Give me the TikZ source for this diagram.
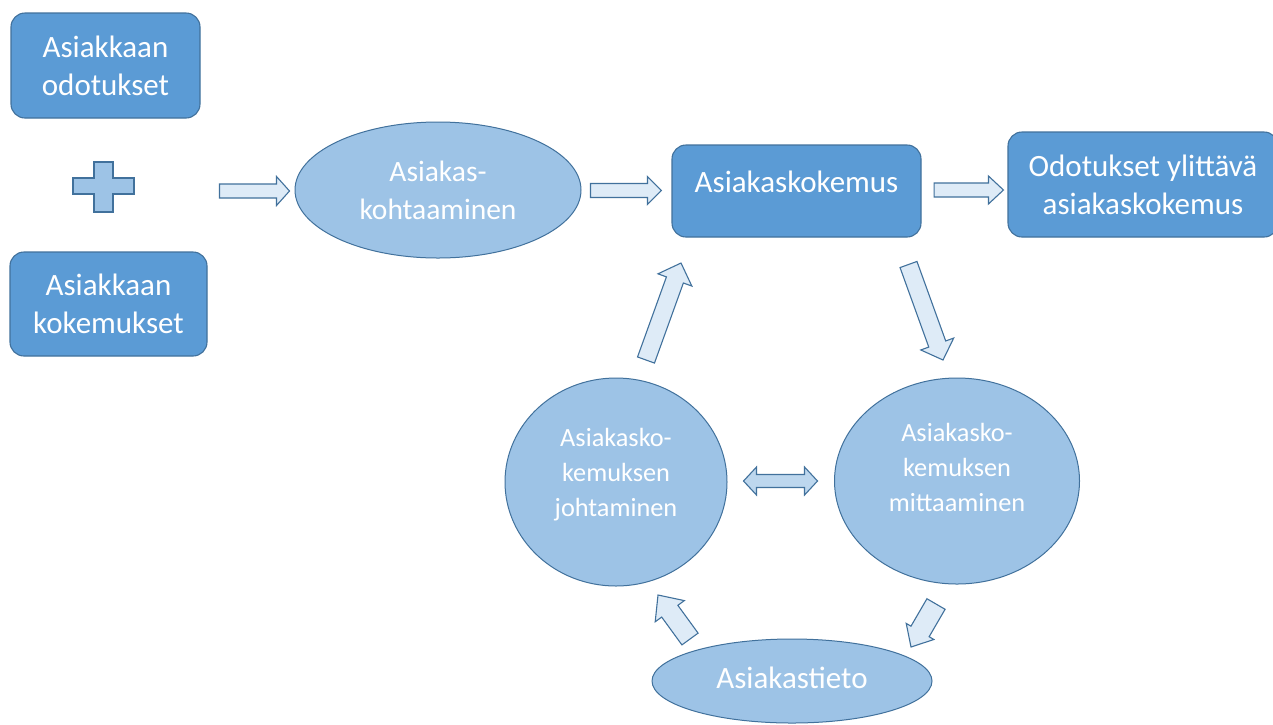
\documentclass[tikz,border=0pt]{standalone}
\usepackage{fontspec}
\setmainfont{Carlito}
\usetikzlibrary{shapes.geometric,calc}
\definecolor{boxfill}{HTML}{5B9BD5}
\definecolor{edge}{HTML}{41719C}
\definecolor{ellfill}{HTML}{9DC3E6}
\definecolor{arrfill}{HTML}{DEEBF7}
\definecolor{dblfill}{HTML}{BDD7EE}
\tikzset{
  darkbox/.style={rectangle, rounded corners=14pt, fill=boxfill, draw=edge, line width=1.1pt,
    text=white, align=center, inner sep=0pt, font=\fontsize{31}{38}\selectfont},
  ellbox/.style={ellipse, fill=ellfill, draw=edge, line width=1pt, text=white,
    align=center, inner sep=0pt, font=\fontsize{29.5}{38}\selectfont},
  boxtext/.style={text=white, align=center, font=\fontsize{31}{38}\selectfont},
  circtext/.style={text=white, align=center, font=\fontsize{26.3}{35}\selectfont},
  blk/.style={fill=arrfill, draw=edge, line width=1.1pt, line join=miter},
  blkdbl/.style={fill=dblfill, draw=edge, line width=1.1pt, line join=miter},
  plusshape/.style={fill=ellfill, draw=edge, line width=1.1pt}
}
% start, end, shaft half width, head half width, head length
\newcommand\blockarrow[5]{%
  \coordinate (bah) at ($(#2)!#5!(#1)$);
  \draw[blk] ($(#1)!#3!90:(#2)$) -- ($(bah)!#3!90:(#2)$) -- ($(bah)!#4!90:(#2)$) -- (#2)
    -- ($(bah)!#4!-90:(#2)$) -- ($(bah)!#3!-90:(#2)$) -- ($(#1)!#3!-90:(#2)$) -- cycle;}
\newcommand\dblarrow[5]{%
  \coordinate (bah) at ($(#2)!#5!(#1)$);
  \coordinate (bat) at ($(#1)!#5!(#2)$);
  \draw[blkdbl] (#1) -- ($(bat)!#4!90:(#2)$) -- ($(bat)!#3!90:(#2)$) -- ($(bah)!#3!90:(#2)$)
    -- ($(bah)!#4!90:(#2)$) -- (#2) -- ($(bah)!#4!-90:(#2)$) -- ($(bah)!#3!-90:(#2)$)
    -- ($(bat)!#3!-90:(#2)$) -- ($(bat)!#4!-90:(#2)$) -- cycle;}
\begin{document}
\begin{tikzpicture}[x=1pt,y=-1pt]
\useasboundingbox[fill=white] (0,0) rectangle (1273,724);
% boxes
\node[darkbox, minimum width=189pt, minimum height=105pt] (odot) at (105.5,65.5) {Asiakkaan\\odotukset};
\node[darkbox, minimum width=197pt, minimum height=104pt] (koke) at (108.5,304) {Asiakkaan\\kokemukset};
\node[ellbox, minimum width=286pt, minimum height=136pt] (kohta) at (438,190) {Asiakas-\\kohtaaminen};
\node[darkbox, minimum width=249pt, minimum height=92pt,
  label={[boxtext, yshift=9pt]center:Asiakaskokemus}] (ak) at (796.5,191) {};
\node[darkbox, minimum width=270pt, minimum height=105pt] (ylit) at (1143,184.5) {Odotukset ylittävä\\asiakaskokemus};
\node[ellbox, minimum width=222pt, minimum height=208pt,
  label={[circtext, yshift=7pt]center:Asiakasko-\\kemuksen\\johtaminen}] (joht) at (616,482) {};
\node[ellbox, minimum width=245pt, minimum height=206pt,
  label={[circtext, yshift=14pt]center:Asiakasko-\\kemuksen\\mittaaminen}] (mitt) at (957,481) {};
\node[ellbox, minimum width=280pt, minimum height=84pt,
  label={[boxtext, yshift=3pt]center:Asiakastieto}] (tieto) at (792,681) {};
% plus sign
\draw[plusshape] (94,162) -- (113,162) -- (113,178) -- (134,178) -- (134,194) -- (113,194)
  -- (113,212) -- (94,212) -- (94,194) -- (73,194) -- (73,178) -- (94,178) -- cycle;
% arrow end points
\coordinate (a1e) at ($(kohta.west)+(-5,1)$);
\coordinate (a1s) at ($(a1e)+(-70,0)$);
\coordinate (a2s) at ($(kohta.east)+(9,0.5)$);
\coordinate (a2e) at ($(ak.west)+(-10,-0.5)$);
\coordinate (a3s) at ($(ak.east)+(12.5,-1)$);
\coordinate (a3e) at ($(ylit.west)+(-4,5.5)$);
\coordinate (ups) at (646,360);
\coordinate (upe) at (681,263);
\coordinate (dns) at (908.5,264.5);
\coordinate (dne) at (943,360);
\coordinate (dbs) at ($(joht.east)+(16,-1)$);
\coordinate (dbe) at ($(mitt.west)+(-16.5,0)$);
\coordinate (bls) at (690,639);
\coordinate (ble) at (658,595);
\coordinate (brs) at (936,604);
\coordinate (bre) at (911,647);
% arrows
\blockarrow{a1s}{a1e}{7pt}{14.5pt}{13pt}
\blockarrow{a2s}{a2e}{7pt}{14pt}{14pt}
\blockarrow{a3s}{a3e}{7pt}{14pt}{15pt}
\blockarrow{ups}{upe}{9pt}{18pt}{18pt}
\blockarrow{dns}{dne}{9pt}{17.5pt}{17pt}
\dblarrow{dbs}{dbe}{6.5pt}{14pt}{13pt}
\blockarrow{bls}{ble}{10pt}{18pt}{20pt}
\blockarrow{brs}{bre}{10.5pt}{16pt}{18pt}
\end{tikzpicture}
\end{document}
